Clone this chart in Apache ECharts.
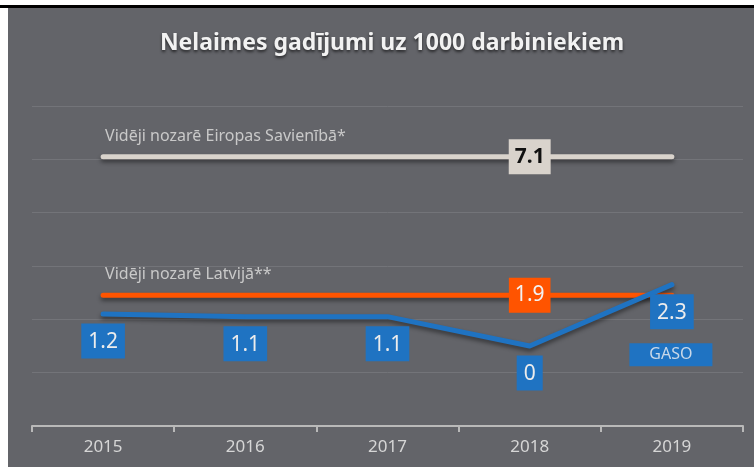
<!DOCTYPE html>
<html>
<head>
<meta charset="utf-8">
<script src="https://cdn.jsdelivr.net/npm/echarts@6/dist/echarts.min.js"></script>
<style>
  body { margin: 0; background: #fff; width: 754px; height: 467px; overflow: hidden; position: relative; }
  #topBar { position: absolute; left: 0; top: 5px; width: 754px; height: 3px; background: #000; }
  #main { position: absolute; left: 8px; top: 8px; width: 746px; height: 459px; }
</style>
</head>
<body>
<div id="topBar"></div>
<div id="main"></div>
<script>
// dati
const years = ['2015', '2016', '2017', '2018', '2019']
const euAvg = [7.1, 7.1, 7.1, 7.1, 7.1]
const lvAvg = [1.9, 1.9, 1.9, 1.9, 1.9]
const gaso = [1.2, 1.1, 1.1, 0, 2.3]
const euName = 'Vidēji nozarē Eiropas Savienībā*'
const lvName = 'Vidēji nozarē Latvijā**'
const gasoName = 'GASO'

const font = "'Noto Sans', 'Open Sans', sans-serif"
const shadow = { shadowColor: 'rgba(0,0,0,0.45)', shadowBlur: 4, shadowOffsetY: 3 }

// nosaukums virs līnijas sākuma + vērtība pie 2018
function avgData(values, name, boxColor, textColor, weight) {
    return values.map((v, i) => {
        if (i === 0) {
            return {
                value: v,
                label: {
                    show: true, formatter: name, position: 'top', distance: 12,
                    align: 'left', offset: [2, 0],
                    color: '#c9c9c9', fontSize: 16, fontFamily: font
                }
            }
        }
        if (i === 3) {
            return {
                value: v,
                label: {
                    show: true, position: 'inside', formatter: '{c}',
                    backgroundColor: boxColor, color: textColor,
                    fontSize: 21, fontWeight: weight, fontFamily: font,
                    padding: [8, 6, 6, 6]
                }
            }
        }
        return v
    })
}

const chart = echarts.init(document.getElementById('main'))
chart.setOption({
    backgroundColor: '#636469',
    animation: false,
    title: {
        text: 'Nelaimes gadījumi uz 1000 darbiniekiem',
        left: 379, top: 19, textAlign: 'center',
        textStyle: {
            color: '#f2f2f2', fontSize: 23, fontWeight: 'bold', fontFamily: font,
            textShadowColor: 'rgba(0,0,0,0.6)', textShadowBlur: 3, textShadowOffsetY: 2
        }
    },
    grid: { left: 24, right: 11, top: 98, bottom: 41 },
    xAxis: {
        type: 'category',
        data: years,
        boundaryGap: true,
        axisLine: { onZero: false, lineStyle: { color: '#b9b9b9', width: 2 } },
        axisTick: { show: true, length: 6, lineStyle: { color: '#b9b9b9', width: 2 } },
        axisLabel: { color: '#d6d6d6', fontSize: 17, fontFamily: font, margin: 13 }
    },
    yAxis: {
        type: 'value',
        min: -3, max: 9, interval: 2,
        axisLabel: { show: false },
        axisLine: { show: false },
        axisTick: { show: false },
        splitLine: { lineStyle: { color: '#737479', width: 1 } }
    },
    series: [
        {
            name: euName,
            type: 'line',
            data: avgData(euAvg, euName, '#d9d3cc', '#111', 'bold'),
            symbol: 'circle', symbolSize: 1,
            itemStyle: { color: '#d9d3cc' },
            lineStyle: Object.assign({ color: '#d9d3cc', width: 5, cap: 'round' }, shadow),
            z: 2
        },
        {
            name: lvName,
            type: 'line',
            data: avgData(lvAvg, lvName, '#ff5400', '#f2f2f2', 'normal'),
            symbol: 'circle', symbolSize: 1,
            itemStyle: { color: '#ff5400' },
            lineStyle: Object.assign({ color: '#ff5400', width: 5, cap: 'round' }, shadow),
            z: 2
        },
        {
            name: gasoName,
            type: 'line',
            data: gaso,
            symbol: 'circle', symbolSize: 1,
            itemStyle: { color: '#1f73c2' },
            lineStyle: Object.assign({ color: '#1f73c2', width: 5, cap: 'round', join: 'round' }, shadow),
            label: {
                show: true, position: 'bottom', distance: 9,
                backgroundColor: '#1f73c2', color: '#ececec',
                fontSize: 21, fontFamily: font,
                padding: [8, 7, 6, 7]
            },
            markPoint: {
                symbol: 'rect', symbolSize: 0,
                data: [{ coord: [years[4], gaso[4]], value: gasoName }],
                label: {
                    show: true, position: 'inside', formatter: gasoName,
                    offset: [-1, 70],
                    backgroundColor: '#1f73c2', color: '#c9d8e8',
                    fontSize: 16, fontFamily: font,
                    width: 83, height: 23, lineHeight: 23, align: 'center', padding: 0
                }
            },
            z: 3
        }
    ]
})
</script>
</body>
</html>
